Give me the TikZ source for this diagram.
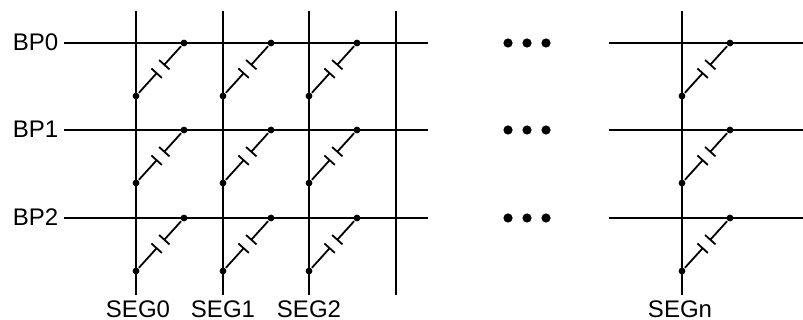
\documentclass[tikz,border=0pt]{standalone}
\usepackage{fontspec}
\setmainfont{Liberation Sans}
\usetikzlibrary{calc}

\begin{document}
\begin{tikzpicture}[x=0.5pt, y=-0.5pt, line width=0.9pt, font=\fontsize{12}{14}\selectfont,
	dot/.style={circle, fill, inner sep=0pt, minimum size=3.4pt},
	bigdot/.style={circle, fill, inner sep=0pt, minimum size=4.6pt}]
	\newcommand{\CAP}[2]{%
		\coordinate (m1) at ($(#1)!0.43!(#2)$);
		\coordinate (m2) at ($(#1)!0.59!(#2)$);
		\draw (#1) -- (m1) ($(m1)!3.5pt!90:(#2)$) -- ($(m1)!3.5pt!-90:(#2)$);
		\draw (#2) -- (m2) ($(m2)!3.5pt!90:(#1)$) -- ($(m2)!3.5pt!-90:(#1)$);
	}
	\useasboundingbox (0,0) rectangle (803,320);
	% segment lines
	\foreach \c/\x in {0/136, 1/223, 2/309, 3/396, n/682}{
		\coordinate (T\c) at (\x, 11);
		\coordinate (B\c) at (\x, 295);
		\draw (T\c) -- (B\c);
	}
	\foreach \c/\x in {0/138, 1/223, 2/309, n/680}
		\node(SEG\c) [anchor=base, inner sep=0pt] at (\x, 317){SEG\c};
	% back planes, dots and capacitors
	\foreach \r/\y in {0/43, 1/130, 2/218}{
		\node(BP\r) [anchor=base west, inner sep=0pt] at (12, \y+8){BP\r};
		\coordinate (W\r) at (64, \y);
		\coordinate (E\r) at (428, \y);
		\coordinate (WW\r) at (609, \y);
		\coordinate (EE\r) at (803, \y);
		\draw (W\r) -- (E\r) (WW\r) -- (EE\r);
		\foreach \k/\xx in {a/508, b/527, c/546}
			\node(D\r\k) [bigdot] at (\xx, \y){};
		\foreach \c/\x in {0/136, 1/223, 2/309, n/682}{
			\node(U\c\r) [dot] at (\x+48, \y){};
			\node(L\c\r) [dot] at (\x, \y+53){};
			\CAP{L\c\r}{U\c\r}
		}
	}
\end{tikzpicture}
\end{document}
